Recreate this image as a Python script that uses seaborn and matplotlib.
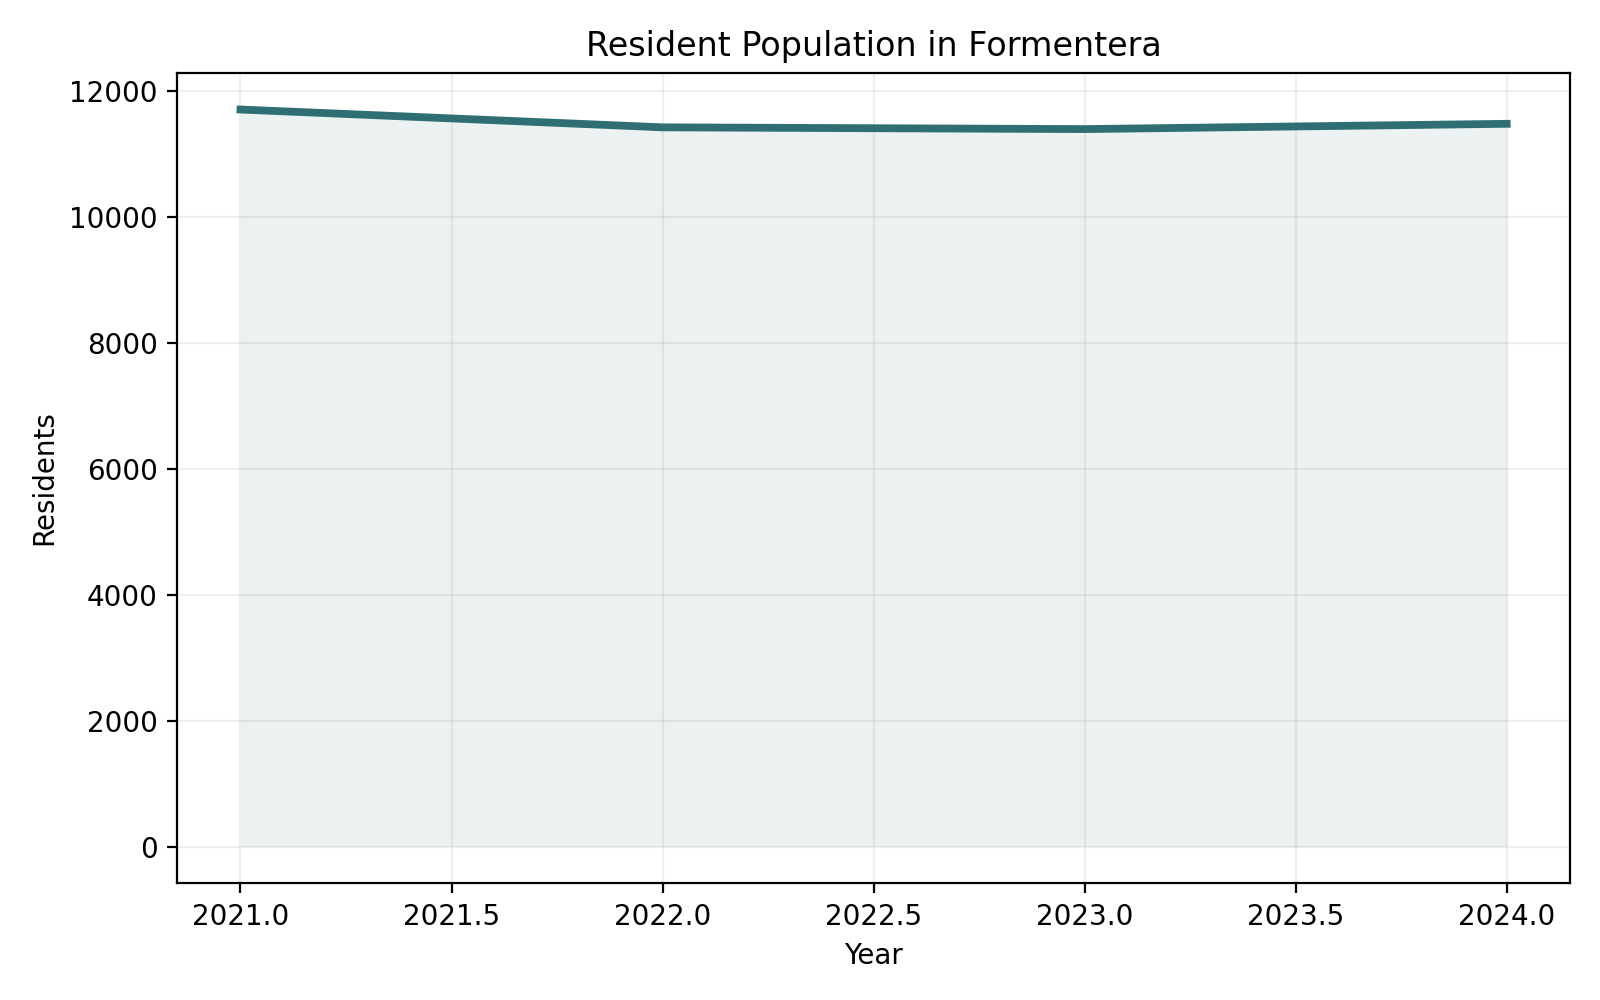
import pandas as pd
import matplotlib
matplotlib.use("Agg")
import matplotlib.pyplot as plt
import seaborn as sns

# data
years = [2021, 2022, 2023, 2024]
residents = [11708, 11425, 11397, 11481]

df = pd.DataFrame({"Year": years, "Residents": residents})

sns.set_style("ticks")
plt.rcParams["font.family"] = ["DejaVu Sans"]
for k in ["text.color", "axes.labelcolor", "xtick.color", "ytick.color"]:
    plt.rcParams[k] = "black"

color = "#2f6f73"

fig, ax = plt.subplots(figsize=(8, 5), dpi=200)
ax.fill_between(df["Year"], df["Residents"], color=color, alpha=0.09, linewidth=0)
sns.lineplot(data=df, x="Year", y="Residents", color=color, linewidth=2.8,
             solid_capstyle="projecting", ax=ax)

ax.set_title("Resident Population in Formentera", fontsize=12)
ax.set_xlabel("Year")
ax.set_ylabel("Residents")
ax.grid(True, alpha=0.3)
for s in ax.spines.values():
    s.set_color("black")
    s.set_linewidth(0.8)

fig.tight_layout()
fig.savefig("out.png", dpi=200)
